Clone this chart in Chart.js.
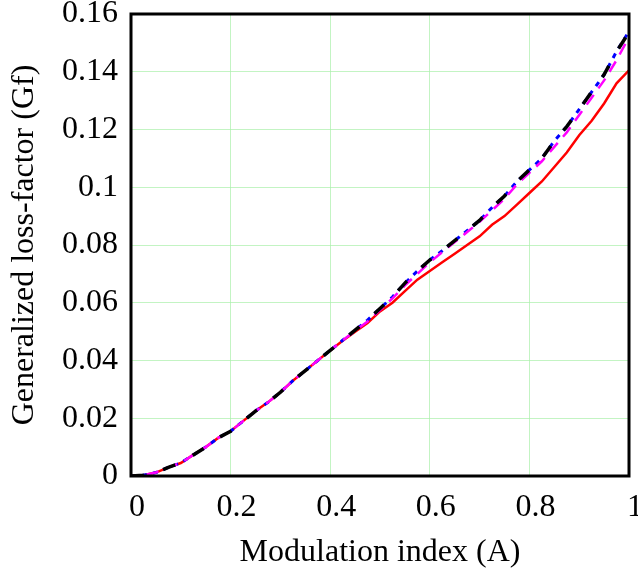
<!DOCTYPE html>
<html>
<head>
<meta charset="utf-8">
<script src="https://cdn.jsdelivr.net/npm/chart.js@4"></script>
<style>
html,body{margin:0;padding:0;background:#fff;}
#wrap{width:638px;height:572px;position:relative;}
</style>
</head>
<body>
<div id="wrap"><canvas id="c" width="638" height="572"></canvas></div>
<script>
const xValues = [0,0.025,0.05,0.075,0.1,0.125,0.15,0.175,0.2,0.225,0.25,0.275,0.3,0.325,0.35,0.375,0.4,0.425,0.45,0.475,0.5,0.525,0.55,0.575,0.6,0.625,0.65,0.675,0.7,0.725,0.75,0.775,0.8,0.825,0.85,0.875,0.9,0.925,0.95,0.975,1];
const redSeries = [0,0.0003,0.0012,0.003,0.0045,0.0073,0.0100,0.0132,0.0155,0.019,0.0225,0.0255,0.029,0.033,0.0365,0.040,0.0435,0.0468,0.050,0.053,0.057,0.060,0.064,0.068,0.071,0.074,0.077,0.080,0.083,0.087,0.090,0.094,0.098,0.102,0.107,0.112,0.118,0.123,0.129,0.136,0.1405];
const blackSeries = [0,0.0003,0.0012,0.003,0.0045,0.0073,0.0100,0.0132,0.0155,0.019,0.0225,0.0255,0.029,0.033,0.0365,0.040,0.0435,0.047,0.0505,0.054,0.058,0.062,0.0668,0.071,0.0748,0.078,0.0815,0.085,0.0885,0.093,0.097,0.102,0.106,0.110,0.116,0.121,0.127,0.133,0.139,0.147,0.1536];
const blueSeries = [0,0.0003,0.0012,0.003,0.0045,0.0073,0.0100,0.0132,0.0155,0.019,0.0225,0.0255,0.029,0.033,0.0365,0.040,0.0435,0.047,0.0505,0.054,0.058,0.062,0.0668,0.071,0.0748,0.078,0.0815,0.085,0.0885,0.093,0.097,0.102,0.106,0.110,0.116,0.121,0.127,0.133,0.139,0.147,0.154];
const magentaSeries = [0,0.0003,0.0012,0.003,0.0045,0.0073,0.0100,0.0132,0.0155,0.019,0.0225,0.0255,0.029,0.033,0.0365,0.040,0.0435,0.047,0.0503,0.0535,0.0575,0.0615,0.066,0.070,0.074,0.0775,0.081,0.0845,0.088,0.092,0.096,0.101,0.105,0.109,0.114,0.119,0.125,0.131,0.137,0.144,0.152];
const xTickValues = [0,0.2,0.4,0.6,0.8,1];
const xTickLabels = ["0","0.2","0.4","0.6","0.8","1"];
const yTickValues = [0,0.02,0.04,0.06,0.08,0.1,0.12,0.14,0.16];
const yTickLabels = ["0","0.02","0.04","0.06","0.08","0.1","0.12","0.14","0.16"];
const xTitle = "Modulation index (A)";
const yTitle = "Generalized loss-factor (Gf)";

function pts(ys){ return xValues.map((x,i)=>({x:x,y:ys[i]})); }

const frame = {
  id:'frame',
  afterDatasetsDraw(chart){
    const a = chart.chartArea, ctx = chart.ctx;
    ctx.save();
    ctx.strokeStyle = '#000';
    ctx.lineWidth = 3;
    ctx.strokeRect(a.left, a.top, a.right - a.left, a.bottom - a.top);
    ctx.restore();
  }
};

const font = {family:'"Liberation Serif", "Times New Roman", serif', size:32};

new Chart(document.getElementById('c'), {
  type:'line',
  data:{
    datasets:[
      {data:pts(blackSeries), borderColor:'#000', borderWidth:3.5, borderDash:[13,20], order:0},
      {data:pts(magentaSeries), borderColor:'#ff00ff', borderWidth:2.5, borderDash:[12,8], borderDashOffset:4, order:1},
      {data:pts(blueSeries), borderColor:'#0000ff', borderWidth:3, borderDash:[5,6], order:2},
      {data:pts(redSeries), borderColor:'#ff0000', borderWidth:2.5, order:3}
    ]
  },
  options:{
    responsive:false,
    animation:false,
    parsing:true,
    elements:{point:{radius:0}, line:{tension:0, fill:false}},
    layout:{padding:{top:14, right:9, left:0, bottom:0}},
    plugins:{legend:{display:false}, tooltip:{enabled:false}},
    scales:{
      x:{
        type:'linear', min:0, max:1,
        afterBuildTicks(s){ s.ticks = xTickValues.map(v=>({value:v})); },
        afterFit(s){ s.height = 96; s.paddingLeft = 0; s.paddingRight = 0; },
        ticks:{color:'#000', font:font, padding:12, maxRotation:0, autoSkip:false, labelOffset:6,
          callback:(v)=>{ const i = xTickValues.indexOf(v); return i>=0 ? xTickLabels[i] : ''; }},
        grid:{color:'rgba(170,240,170,0.7)', lineWidth:1, drawTicks:false},
        border:{display:false},
        title:{display:true, text:xTitle, color:'#000', font:font, padding:{top:0,bottom:0}}
      },
      y:{
        type:'linear', min:0, max:0.16,
        afterBuildTicks(s){ s.ticks = yTickValues.map(v=>({value:v})); },
        afterFit(s){ s.width = 131; s.paddingTop = 0; s.paddingBottom = 0; },
        ticks:{color:'#000', font:font, padding:13, autoSkip:false,
          callback:(v)=>{ const i = yTickValues.findIndex(t=>Math.abs(t-v)<1e-9); return i>=0 ? yTickLabels[i] : ''; }},
        grid:{color:'rgba(170,240,170,0.7)', lineWidth:1, drawTicks:false},
        border:{display:false},
        title:{display:true, text:yTitle, color:'#000', font:font, padding:{top:5,bottom:0}}
      }
    }
  },
  plugins:[frame]
});
</script>
</body>
</html>
